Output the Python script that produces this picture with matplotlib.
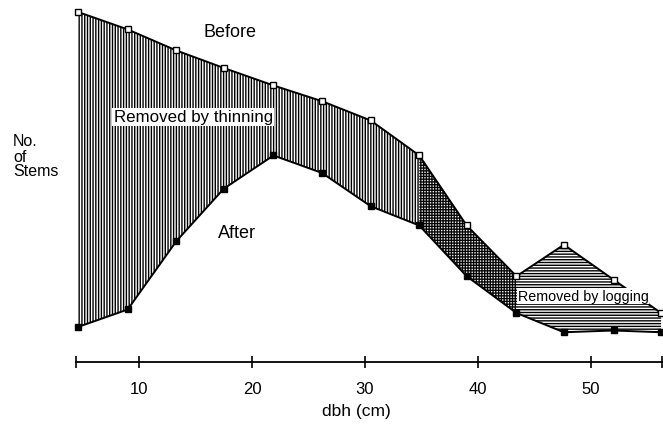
import numpy as np
import matplotlib
matplotlib.use("Agg")
import matplotlib.pyplot as plt

plt.rcParams['font.family'] = ['Liberation Sans', 'DejaVu Sans']
plt.rcParams['hatch.color'] = 'black'
plt.rcParams['hatch.linewidth'] = 1.0

# diameter classes (cm) and relative number of stems
dbh = np.array([4.6, 9.0, 13.3, 17.5, 21.9, 26.2, 30.5, 34.8, 39.0, 43.4, 47.6, 52.0, 56.2])
before = np.array([100, 95, 89, 84, 79, 74.5, 69, 59, 39, 24.5, 33.5, 23.5, 14])
after = np.array([10, 15, 34.5, 49.5, 59, 54, 44.5, 39, 24.5, 14, 8.5, 9, 8.5])
xticks = [10, 20, 30, 40, 50]

# index ranges of the two removal zones
thin_end = 9   # thinning up to 43.4 cm
log_start = 7  # logging from 34.8 cm

fig = plt.figure(figsize=(6.63, 4.31), dpi=100)
ax = fig.add_axes([0, 68 / 431, 1, 363 / 431])

ax.fill_between(dbh[:thin_end + 1], after[:thin_end + 1], before[:thin_end + 1],
                facecolor='none', edgecolor='black', linewidth=0, hatch='||||||')
ax.fill_between(dbh[log_start:], after[log_start:], before[log_start:],
                facecolor='none', edgecolor='black', linewidth=0, hatch='------')

ax.plot(dbh, before, color='black', lw=1.4, marker='s', ms=5,
        mfc='white', mec='black', mew=1, clip_on=False, zorder=3)
ax.plot(dbh, after, color='black', lw=1.4, marker='s', ms=5,
        mfc='black', mec='black', clip_on=False, zorder=3)

ax.text(18.05, 94.3, 'Before', fontsize=13, ha='center', va='center')
ax.text(18.7, 37.1, 'After', fontsize=13, ha='center', va='center')
ax.text(14.8, 70, 'Removed by thinning', fontsize=12.2, ha='center', va='center',
        bbox=dict(facecolor='white', edgecolor='none', pad=1), zorder=4)
ax.text(49.3, 18.9, 'Removed by logging', fontsize=10.3, ha='center', va='center',
        bbox=dict(facecolor='white', edgecolor='none', pad=0.5), zorder=4)

ax.set_xlim(-2.30, 56.37)
ax.set_ylim(0, 103.7)
for s in ['top', 'right', 'left']:
    ax.spines[s].set_visible(False)
ax.spines['bottom'].set_bounds(4.4, 56.3)
ax.spines['bottom'].set_linewidth(1.3)
ax.set_yticks([])
ax.set_xticks(xticks)
ax.set_xticks([4.4, 56.3], minor=True)
ax.tick_params(axis='x', which='major', direction='inout', length=8, width=1.2,
               labelsize=12, pad=10)
ax.tick_params(axis='x', which='minor', direction='inout', length=8, width=1.2)

fig.text(13 / 663, 1 - 157 / 431, 'No.\nof\nStems', fontsize=11.5,
         ha='left', va='center', linespacing=1.0)
fig.text(356 / 663, 1 - 412 / 431, 'dbh (cm)', fontsize=12.5, ha='center', va='center')

fig.savefig('out.png', dpi=100)
